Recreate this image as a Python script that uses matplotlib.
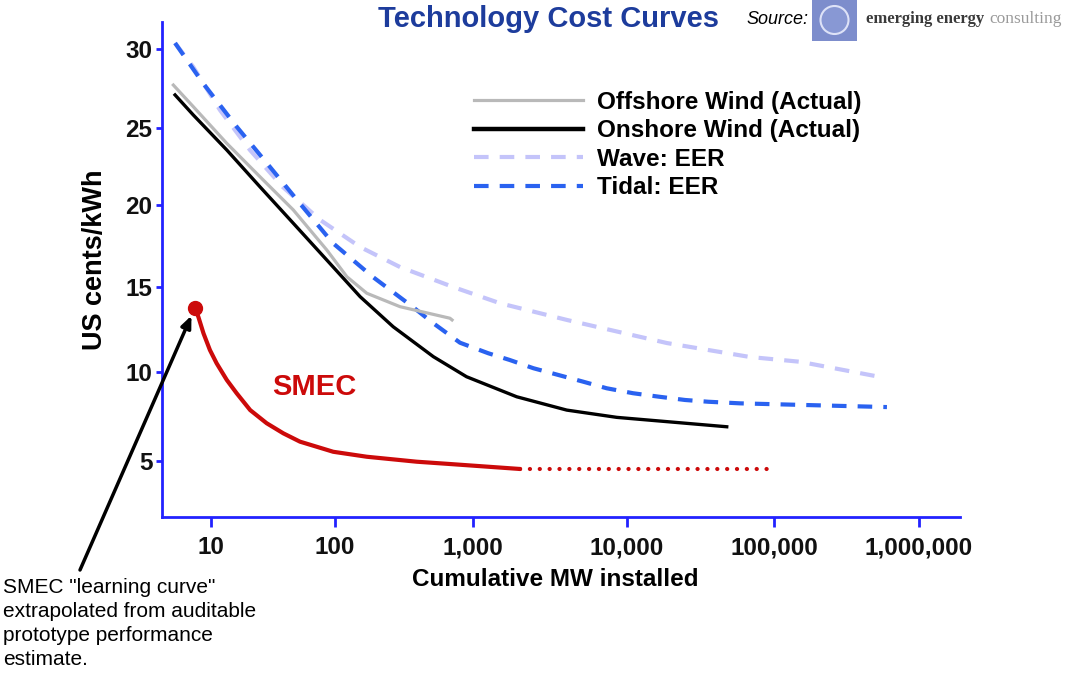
import numpy as np
import matplotlib.pyplot as plt
from matplotlib.patches import Rectangle, Ellipse
from matplotlib.lines import Line2D

plt.rcParams['font.family'] = ['Liberation Sans', 'DejaVu Sans']
plt.rcParams['lines.scale_dashes'] = False

# cumulative capacity installed (MW) vs generating cost (US cents/kWh)
offshore_mw = [4.97, 7.2, 13.4, 24.8, 46.1, 85.8, 122, 170, 296, 681, 705]
offshore_cost = [27.72, 26.34, 23.99, 21.83, 19.70, 17.27, 15.64, 14.65, 13.86, 13.18, 13.08]

onshore_mw = [5.13, 7.2, 13.4, 24.8, 46.1, 85.8, 152, 264, 516, 898, 1923,
              4060, 8580, 18600, 47700]
onshore_cost = [27.09, 25.81, 23.56, 21.18, 18.89, 16.66, 14.45, 12.68, 10.92,
                9.75, 8.62, 7.87, 7.46, 7.22, 6.93]

wave_mw = [5.13, 7.2, 11.8, 20.6, 38, 76, 152, 296, 717, 1500, 4070, 18700, 68700,
           151000, 538000]
wave_cost = [30.40, 28.87, 26.13, 23.56, 21.16, 19.09, 17.45, 16.23, 15.02, 14.06,
             13.08, 11.72, 10.90, 10.62, 9.74]

tidal_mw = [5.13, 8.6, 16.2, 29.9, 55, 96, 188, 367, 513, 805, 1257, 1738, 2466,
            3580, 5200, 7380, 11000, 16300, 24800, 35700, 58700, 601000]
tidal_cost = [30.40, 27.85, 25.04, 22.46, 19.88, 17.69, 15.63, 13.84, 12.90, 11.74,
              11.12, 10.72, 10.24, 9.85, 9.47, 9.10, 8.82, 8.63, 8.44, 8.34, 8.25, 8.04]

smec_mw = [7.4, 7.9, 8.7, 9.8, 11.1, 13.4, 16.1, 20.7, 28.1, 38.3, 52.2, 96.8, 170,
           391, 681, 2020]
smec_cost = [13.78, 13.27, 12.29, 11.31, 10.53, 9.57, 8.82, 7.87, 7.13, 6.56, 6.09,
             5.52, 5.24, 4.96, 4.83, 4.55]
smec_proj_mw = [2020, 100000]
smec_proj_cost = [4.55, 4.55]

x_ticks = [10, 100, 1000, 10000, 100000, 1000000]
x_labels = ['10', '100', '1,000', '10,000', '100,000', '1,000,000']
y_ticks = [5, 10, 15, 20, 25, 30]

W, H = 1083, 674

# hand-spaced axes: tick values pinned to their positions along each axis
x_pos = [211, 335, 473, 627, 774, 919]
y_pos = [-461, -372.3, -287.3, -205, -127.7, -49.3]


def piecewise(xp, fp):
    xp = np.asarray(xp, float)
    fp = np.asarray(fp, float)

    def f(v):
        v = np.asarray(v, float)
        out = np.interp(v, xp, fp)
        lo = fp[0] + (v - xp[0]) * (fp[1] - fp[0]) / (xp[1] - xp[0])
        hi = fp[-1] + (v - xp[-1]) * (fp[-1] - fp[-2]) / (xp[-1] - xp[-2])
        out = np.where(v < xp[0], lo, out)
        return np.where(v > xp[-1], hi, out)
    return f


fx = piecewise(np.log10(x_ticks), x_pos)
fx_inv = piecewise(x_pos, np.log10(x_ticks))
fy = piecewise(y_ticks, y_pos)
fy_inv = piecewise(y_pos, y_ticks)


def x_fwd(v):
    return fx(np.log10(np.clip(v, 1e-12, None)))


def x_inv(p):
    return 10 ** fx_inv(p)


fig = plt.figure(figsize=(W / 100, H / 100), dpi=100)
ax = fig.add_axes([162 / W, 1 - 517 / H, (960 - 162) / W, (517 - 22) / H])
ax.set_xscale('function', functions=(x_fwd, x_inv))
ax.set_yscale('function', functions=(fy, fy_inv))
ax.set_xlim(x_inv(162), x_inv(960))
ax.set_ylim(fy_inv(-517), fy_inv(-22))

wave_col = '#c4c4fa'
tidal_col = '#2a62f0'
red = '#cc0a0a'

ax.plot(wave_mw, wave_cost, color=wave_col, lw=3, dashes=(10.5, 8))
ax.plot(tidal_mw, tidal_cost, color=tidal_col, lw=3, dashes=(10.5, 8))
ax.plot(offshore_mw, offshore_cost, color='#b9b9b9', lw=2.3)
ax.plot(onshore_mw, onshore_cost, color='black', lw=2.4)
ax.plot(smec_mw, smec_cost, color=red, lw=3, solid_capstyle='round')
ax.plot(smec_proj_mw, smec_proj_cost, color=red, lw=3,
        dashes=(0.1, 7), dash_capstyle='round')
ax.plot(smec_mw[:1], smec_cost[:1], 'o', color=red, ms=10)

spine_col = '#2222ff'
for side in ['top', 'right']:
    ax.spines[side].set_visible(False)
for side in ['left', 'bottom']:
    ax.spines[side].set_color(spine_col)
    ax.spines[side].set_linewidth(2)

ax.set_xticks(x_ticks)
ax.set_xticklabels(x_labels)
ax.set_yticks(y_ticks)
ax.xaxis.set_minor_locator(plt.NullLocator())
ax.yaxis.set_minor_locator(plt.NullLocator())
ax.tick_params(axis='x', length=7, width=2, color=spine_col, pad=7,
               labelsize=17.5)
ax.tick_params(axis='y', length=4, width=2, color=spine_col, pad=3,
               labelsize=17.5)
for lab in ax.get_xticklabels() + ax.get_yticklabels():
    lab.set_fontweight('bold')
    lab.set_color('#111111')

handles = [
    Line2D([], [], color='#b9b9b9', lw=2.3),
    Line2D([], [], color='black', lw=3.2),
    Line2D([], [], color=wave_col, lw=3, dashes=(10.5, 8)),
    Line2D([], [], color=tidal_col, lw=3, dashes=(10.5, 8)),
]
labels = ['Offshore Wind (Actual)', 'Onshore Wind (Actual)', 'Wave: EER', 'Tidal: EER']
ax.legend(handles, labels, loc='upper left', bbox_to_anchor=(474 / W, 1 - 91 / H),
          bbox_transform=fig.transFigure, frameon=False, borderpad=0,
          borderaxespad=0, handlelength=4.5, handletextpad=0.55, labelspacing=0.22,
          prop=dict(weight='bold', size=17.5))

fig.text(314 / W, 1 - 387 / H, 'SMEC', color=red, fontsize=21, weight='bold',
         ha='center', va='center')

ax.annotate('', xy=(smec_mw[0], smec_cost[0]), xycoords='data',
            xytext=(80, H - 570), textcoords='figure pixels',
            arrowprops=dict(arrowstyle='-|>,head_length=0.7,head_width=0.3',
                            color='black', lw=2.5, shrinkA=0, shrinkB=6),
            annotation_clip=False)

fig.text(3 / W, 1 - 578 / H,
         'SMEC "learning curve"\nextrapolated from auditable\nprototype performance\nestimate.',
         ha='left', va='top', fontsize=15, linespacing=1.33)

fig.text(95 / W, 1 - 260 / H, 'US cents/kWh', rotation=90, ha='center', va='center',
         fontsize=19.5, weight='bold')
fig.text(555 / W, 1 - 580 / H, 'Cumulative MW installed', ha='center', va='center',
         fontsize=17.5, weight='bold')

# header: title and source logo
fig.text(548 / W, 1 - 19 / H, 'Technology Cost Curves', ha='center', va='center',
         fontsize=21, weight='bold', color='#1d3c9c')
fig.text(746 / W, 1 - 19 / H, 'Source:', ha='left', va='center', fontsize=13,
         style='italic')
fig.add_artist(Rectangle((812 / W, 1 - 41 / H), 45 / W, 41 / H, transform=fig.transFigure,
                         facecolor='#7d8dcc', edgecolor='none'))
fig.add_artist(Ellipse((834.5 / W, 1 - 20 / H), 28 / W, 28 / H, transform=fig.transFigure,
                       facecolor='#8898d4', edgecolor='#dde2f7', lw=1.5))
fig.text(866 / W, 1 - 19 / H, 'emerging energy', ha='left', va='center', fontsize=12,
         family='Liberation Serif', weight='bold', color='#3a3a3a')
fig.text(989 / W, 1 - 19 / H, 'consulting', ha='left', va='center', fontsize=12.5,
         family='Liberation Serif', color='#9a9a9a')

fig.savefig('out.png', dpi=100)
